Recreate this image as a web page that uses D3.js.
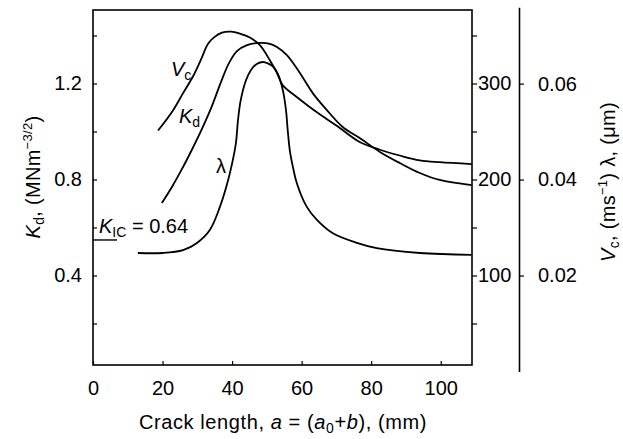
<!DOCTYPE html>
<html>
<head>
<meta charset="utf-8">
<script src="https://d3js.org/d3.v7.min.js"></script>
<style>
body { margin: 0; background: #fff; }
text { font-family: "Liberation Sans", Arial, sans-serif; fill: #000; }
</style>
</head>
<body>
<div id="chart"></div>
<script>
// crack length a (mm) for each curve
const vcX = [18.7, 23.0, 25.9, 28.7, 31.3, 33.0, 34.8, 37.1, 39.7, 42.2, 45.1, 48.0, 50.9, 52.9, 54.6, 58.6, 64.4, 70.1, 76.7, 82.5, 88.2, 94.0, 99.7, 108.9];
const vcY = [251, 272, 290, 307, 327, 341, 348, 353, 354, 352, 348, 340, 324, 311, 298, 286, 270, 256, 239, 231, 225, 220, 218, 216]; // ms^-1

const kdX = [19.8, 22.7, 25.6, 28.4, 31.3, 34.2, 36.8, 39.1, 41.4, 44.3, 48.0, 50.9, 52.9, 55.7, 59.5, 63.2, 67.2, 71.8, 76.7, 82.5, 88.2, 94.0, 99.7, 108.9];
const kdY = [0.702, 0.769, 0.844, 0.923, 1.010, 1.106, 1.206, 1.285, 1.335, 1.360, 1.369, 1.365, 1.352, 1.319, 1.244, 1.160, 1.090, 1.019, 0.973, 0.915, 0.869, 0.827, 0.798, 0.777]; // MNm^-3/2

const lamX = [12.9, 20.1, 25.9, 29.9, 33.6, 36.5, 38.5, 39.9, 41.1, 41.7, 42.5, 44.0, 45.4, 47.1, 48.9, 50.3, 52.0, 53.4, 54.6, 55.5, 56.0, 56.6, 57.5, 58.6, 61.5, 64.4, 69.0, 75.9, 81.6, 94.0, 108.9];
const lamY = [0.0247, 0.0247, 0.0253, 0.0268, 0.0295, 0.0343, 0.0389, 0.0430, 0.0476, 0.0524, 0.0566, 0.0607, 0.0628, 0.0641, 0.0645, 0.0642, 0.0634, 0.0616, 0.0586, 0.0545, 0.0503, 0.0461, 0.0426, 0.0393, 0.0343, 0.0316, 0.0288, 0.0268, 0.0257, 0.0247, 0.0243]; // um

const xTicks = [0, 20, 40, 60, 80, 100];
const kTicks = [0.2, 0.4, 0.6, 0.8, 1.0, 1.2, 1.4];
const kLabels = [0.4, 0.8, 1.2];
const vcTicks = [50, 100, 150, 200, 250, 300, 350];
const vcLabels = [100, 200, 300];
const lamTicks = [0.02, 0.04, 0.06];
const kic = 0.548; // level of the K_IC mark

var width = 623, height = 439;
var box = { left: 93, right: 472, top: 10, bottom: 365 };

var svg = d3.select("#chart").append("svg")
    .attr("width", width)
    .attr("height", height);

const x = d3.scaleLinear().domain([0, 109]).range([box.left, box.right]);
// the three vertical scales share one pixel size (K 1.2 = Vc 300 = lambda 0.06)
const yK = d3.scaleLinear().domain([0, 1.5]).range([371.5, 11.5]);
const yV = d3.scaleLinear().domain([0, 375]).range([371.5, 11.5]);
const yL = d3.scaleLinear().domain([0, 0.0759]).range([371.5, 7.3]);

// frame
svg.append("rect")
    .attr("x", box.left).attr("y", box.top)
    .attr("width", box.right - box.left).attr("height", box.bottom - box.top)
    .attr("fill", "none").attr("stroke", "#000").attr("stroke-width", 1.6);

const fs = 20;

function style(g) {
    g.select(".domain").remove();
    g.selectAll("line").attr("stroke", "#000").attr("stroke-width", 1.2);
    g.selectAll("text").attr("font-size", fs).attr("font-family", null);
}

// bottom
svg.append("g")
    .attr("transform", `translate(0,${box.bottom})`)
    .call(d3.axisBottom(x).tickValues(xTicks).tickSize(-4).tickPadding(16))
    .call(style);

// left
svg.append("g")
    .attr("transform", `translate(${box.left},0)`)
    .call(d3.axisLeft(yK).tickValues(kTicks).tickSize(-4).tickPadding(11)
        .tickFormat((d) => kLabels.includes(d) ? d3.format(".1f")(d) : ""))
    .call(style);

// right, inner (Vc)
svg.append("g")
    .attr("transform", `translate(${box.right},0)`)
    .call(d3.axisRight(yV).tickValues(vcTicks).tickSize(5).tickPadding(1)
        .tickFormat((d) => vcLabels.includes(d) ? d : ""))
    .call(style);

// right, outer (lambda)
const gl = svg.append("g")
    .attr("transform", "translate(519,0)")
    .call(d3.axisRight(yL).tickValues(lamTicks).tickSize(5).tickPadding(14).tickSizeOuter(0));
gl.select(".domain").attr("stroke", "#000").attr("stroke-width", 1.6);
gl.selectAll("line").attr("stroke", "#000").attr("stroke-width", 1.2);
gl.selectAll("text").attr("font-size", fs).attr("font-family", null);

// curves
const curve = d3.curveCatmullRom.alpha(0.5);
const vcLine = d3.line().x((d, i) => x(vcX[i])).y((d) => yV(d)).curve(curve);
const kdLine = d3.line().x((d, i) => x(kdX[i])).y((d) => yK(d)).curve(curve);
const lamLine = d3.line().x((d, i) => x(lamX[i])).y((d) => yL(d)).curve(curve);

[[vcY, vcLine], [kdY, kdLine], [lamY, lamLine]].forEach(([vals, fn]) => {
    svg.append("path")
        .attr("d", fn(vals))
        .attr("fill", "none")
        .attr("stroke", "#000")
        .attr("stroke-width", 1.8);
});

// K_IC mark
svg.append("line")
    .attr("x1", box.left).attr("x2", box.left + 24)
    .attr("y1", yK(kic)).attr("y2", yK(kic))
    .attr("stroke", "#000").attr("stroke-width", 1.4);

var kicText = svg.append("text").attr("x", 99).attr("y", 233).attr("font-size", fs);
kicText.append("tspan").attr("font-style", "italic").text("K");
kicText.append("tspan").attr("font-size", 14).attr("dy", 4).text("IC");
kicText.append("tspan").attr("dy", -4).text(" = 0.64");

// curve labels
var vcLab = svg.append("text").attr("x", 171).attr("y", 76).attr("font-size", fs);
vcLab.append("tspan").attr("font-style", "italic").text("V");
vcLab.append("tspan").attr("font-size", 14).attr("dy", 4).text("c");

var kdLab = svg.append("text").attr("x", 179).attr("y", 123).attr("font-size", fs);
kdLab.append("tspan").attr("font-style", "italic").text("K");
kdLab.append("tspan").attr("font-size", 14).attr("dy", 4).text("d");

svg.append("text").attr("x", 216).attr("y", 173).attr("font-size", fs).text("λ");

// axis titles
var xt = svg.append("text").attr("x", 283).attr("y", 429)
    .attr("text-anchor", "middle").attr("font-size", fs).attr("letter-spacing", 0.6);
xt.append("tspan").text("Crack length, ");
xt.append("tspan").attr("font-style", "italic").text("a");
xt.append("tspan").text(" = (");
xt.append("tspan").attr("font-style", "italic").text("a");
xt.append("tspan").attr("font-size", 14).attr("dy", 4).text("0");
xt.append("tspan").attr("dy", -4).text("+");
xt.append("tspan").attr("font-style", "italic").text("b");
xt.append("tspan").text("), (mm)");

var yt = svg.append("text").attr("transform", "translate(40,177) rotate(-90)")
    .attr("text-anchor", "middle").attr("font-size", fs).attr("letter-spacing", 0.3);
yt.append("tspan").attr("font-style", "italic").text("K");
yt.append("tspan").attr("font-size", 14).attr("dy", 4).text("d");
yt.append("tspan").attr("dy", -4).text(", (MNm");
yt.append("tspan").attr("font-size", 13).attr("dy", -8).text("−3/2");
yt.append("tspan").attr("dy", 8).text(")");

var rt = svg.append("text").attr("transform", "translate(615,182) rotate(-90)")
    .attr("text-anchor", "middle").attr("font-size", fs).attr("letter-spacing", 0.3);
rt.append("tspan").attr("font-style", "italic").text("V");
rt.append("tspan").attr("font-size", 14).attr("dy", 4).text("c");
rt.append("tspan").attr("dy", -4).text(", (ms");
rt.append("tspan").attr("font-size", 13).attr("dy", -8).text("−1");
rt.append("tspan").attr("dy", 8).text(") λ, (μm)");
</script>
</body>
</html>
